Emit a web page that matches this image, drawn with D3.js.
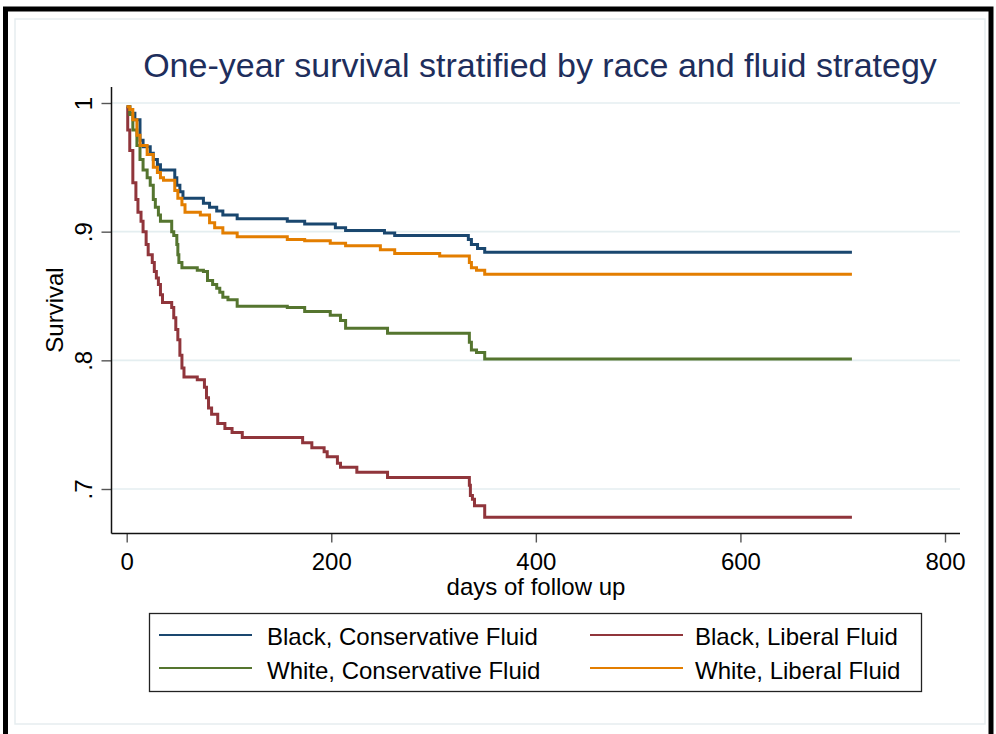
<!DOCTYPE html>
<html>
<head>
<meta charset="utf-8">
<script src="https://cdn.jsdelivr.net/npm/d3@7"></script>
<style>
  html, body { margin: 0; padding: 0; background: #ffffff; }
  svg { display: block; }
  text { font-family: "Liberation Sans", Arial, sans-serif; }
</style>
</head>
<body>
<svg id="chart" width="996" height="734"></svg>
<script>
// Kaplan-Meier step estimates: [day, survival after that day's events]
const blackConservative = [
  [0, 0.997], [3, 0.992], [8, 0.987], [13, 0.971], [16, 0.966], [23, 0.961], [26, 0.956],
  [30, 0.952], [33, 0.948], [47, 0.942], [49, 0.936], [52, 0.931], [55, 0.926], [75, 0.922],
  [81, 0.919], [88, 0.916], [94, 0.913], [108, 0.910], [157, 0.908], [174, 0.906],
  [204, 0.903], [214, 0.901], [252, 0.899], [262, 0.897], [334, 0.894], [337, 0.890],
  [343, 0.887], [350, 0.884], [709, 0.884]
];
const blackLiberal = [
  [0, 0.997], [1, 0.979], [3, 0.963], [6, 0.938], [9, 0.925], [11, 0.915], [14, 0.908],
  [16, 0.900], [19, 0.890], [21, 0.882], [25, 0.876], [27, 0.869], [29, 0.864], [31, 0.859],
  [33, 0.851], [35, 0.845], [44, 0.841], [46, 0.833], [48, 0.824], [50, 0.816], [52, 0.804],
  [54, 0.794], [56, 0.787], [69, 0.785], [76, 0.779], [78, 0.771], [80, 0.763], [83, 0.758],
  [89, 0.751], [96, 0.747], [103, 0.744], [113, 0.740], [172, 0.736], [181, 0.732],
  [193, 0.729], [196, 0.725], [206, 0.720], [209, 0.717], [225, 0.713], [255, 0.709],
  [335, 0.703], [336, 0.695], [338, 0.692], [340, 0.687], [350, 0.678], [709, 0.678]
];
const whiteConservative = [
  [0, 0.997], [3, 0.991], [6, 0.979], [10, 0.967], [13, 0.956], [16, 0.948], [20, 0.942],
  [23, 0.936], [26, 0.925], [28, 0.919], [31, 0.913], [33, 0.908], [44, 0.900], [46, 0.897],
  [49, 0.890], [50, 0.882], [51, 0.876], [54, 0.872], [69, 0.870], [75, 0.869], [79, 0.862],
  [84, 0.859], [88, 0.856], [91, 0.853], [94, 0.849], [99, 0.847], [108, 0.842],
  [157, 0.841], [174, 0.838], [199, 0.835], [209, 0.831], [214, 0.825], [255, 0.821],
  [335, 0.814], [337, 0.808], [342, 0.806], [350, 0.801], [709, 0.801]
];
const whiteLiberal = [
  [0, 0.997], [3, 0.995], [6, 0.987], [10, 0.975], [13, 0.967], [20, 0.960], [26, 0.950],
  [30, 0.946], [33, 0.942], [36, 0.940], [47, 0.932], [50, 0.926], [54, 0.921], [57, 0.915],
  [72, 0.913], [81, 0.907], [86, 0.903], [94, 0.899], [108, 0.896], [157, 0.894],
  [174, 0.893], [199, 0.891], [214, 0.889], [248, 0.886], [262, 0.883], [306, 0.881],
  [335, 0.876], [337, 0.872], [342, 0.870], [350, 0.867], [709, 0.867]
];

const seriesNames = ["Black, Conservative Fluid", "Black, Liberal Fluid",
                     "White, Conservative Fluid", "White, Liberal Fluid"];
const seriesColors = ["#1a476f", "#90353b", "#55752f", "#e37e00"];
const seriesData = [blackConservative, blackLiberal, whiteConservative, whiteLiberal];

const xTicks = [0, 200, 400, 600, 800];
const yTicks = [0.7, 0.8, 0.9, 1];
const yTickLabels = [".7", ".8", ".9", "1"];

const titleText = "One-year survival stratified by race and fluid strategy";
const xTitle = "days of follow up";
const yTitle = "Survival";

const svg = d3.select("#chart");

// page frame
svg.append("rect").attr("x", 5.5).attr("y", 9).attr("width", 985.5).attr("height", 760)
  .attr("fill", "#ffffff").attr("stroke", "#000000").attr("stroke-width", 5);
svg.append("rect").attr("x", 15).attr("y", 19).attr("width", 970).attr("height", 705)
  .attr("fill", "#ffffff").attr("stroke", "#e6edef").attr("stroke-width", 1.5);

// plot region
const plot = { left: 111.5, right: 960, top: 87, bottom: 533.5 };
const x = d3.scaleLinear().domain([0, 800]).range([126.7, 945]);
const y = d3.scaleLinear().domain([0.7, 1]).range([489, 103]);

// grid lines
svg.append("g").selectAll("line").data(yTicks).join("line")
  .attr("x1", plot.left).attr("x2", plot.right)
  .attr("y1", d => y(d)).attr("y2", d => y(d))
  .attr("stroke", "#e4eef0").attr("stroke-width", 1.6);

// title
svg.append("text").attr("x", 540).attr("y", 77).attr("text-anchor", "middle")
  .attr("font-size", 34).attr("fill", "#1e2e5c").text(titleText);

// y axis
const yAxis = d3.axisLeft(y).tickValues(yTicks).tickSize(10).tickSizeOuter(0)
  .tickFormat((d, i) => yTickLabels[i]);
const gy = svg.append("g").attr("transform", `translate(${plot.left},0)`).call(yAxis);
gy.select(".domain").remove();
gy.selectAll(".tick line").attr("stroke", "#555").attr("stroke-width", 1.4);
gy.selectAll(".tick text")
  .attr("x", 0).attr("dy", 0).attr("y", 0)
  .attr("transform", "translate(-20,0) rotate(-90)")
  .attr("text-anchor", "middle").attr("font-size", 24).attr("fill", "#000")
  .style("font-family", "'Liberation Sans', Arial, sans-serif");
svg.append("line").attr("x1", plot.left).attr("x2", plot.left)
  .attr("y1", plot.top).attr("y2", plot.bottom)
  .attr("stroke", "#111").attr("stroke-width", 1.5);

// x axis
const xAxis = d3.axisBottom(x).tickValues(xTicks).tickSize(9).tickSizeOuter(0)
  .tickFormat(d3.format("d"));
const gx = svg.append("g").attr("transform", `translate(0,${plot.bottom})`).call(xAxis);
gx.select(".domain").remove();
gx.selectAll(".tick line").attr("stroke", "#555").attr("stroke-width", 1.4);
gx.selectAll(".tick text").attr("y", 36.5).attr("dy", 0)
  .attr("font-size", 24).attr("fill", "#000")
  .style("font-family", "'Liberation Sans', Arial, sans-serif");
svg.append("line").attr("x1", plot.left).attr("x2", plot.right)
  .attr("y1", plot.bottom).attr("y2", plot.bottom)
  .attr("stroke", "#111").attr("stroke-width", 1.5);

// axis titles
svg.append("text").attr("x", 536).attr("y", 595).attr("text-anchor", "middle")
  .attr("font-size", 24).attr("fill", "#000").text(xTitle);
svg.append("text").attr("transform", "translate(63,310) rotate(-90)")
  .attr("text-anchor", "middle").attr("font-size", 24).attr("fill", "#000").text(yTitle);

// survival curves
const line = d3.line().x(d => x(d[0])).y(d => y(d[1])).curve(d3.curveStepAfter);
svg.append("g").selectAll("path").data(seriesData).join("path")
  .attr("d", line).attr("fill", "none")
  .attr("stroke", (d, i) => seriesColors[i]).attr("stroke-width", 3)
  .attr("stroke-linejoin", "miter");

// legend
svg.append("rect").attr("x", 149.5).attr("y", 613.5).attr("width", 772).attr("height", 78)
  .attr("fill", "#ffffff").attr("stroke", "#222").attr("stroke-width", 1.3);
const legendPos = [
  { lx: 159, tx: 267, ly: 635, ty: 645 },
  { lx: 590, tx: 695, ly: 635, ty: 645 },
  { lx: 159, tx: 267, ly: 668, ty: 679 },
  { lx: 590, tx: 695, ly: 668, ty: 679 }
];
const leg = svg.append("g").selectAll("g").data(seriesNames).join("g");
leg.append("line")
  .attr("x1", (d, i) => legendPos[i].lx).attr("x2", (d, i) => legendPos[i].lx + 93)
  .attr("y1", (d, i) => legendPos[i].ly).attr("y2", (d, i) => legendPos[i].ly)
  .attr("stroke", (d, i) => seriesColors[i]).attr("stroke-width", 2.2);
leg.append("text")
  .attr("x", (d, i) => legendPos[i].tx).attr("y", (d, i) => legendPos[i].ty)
  .attr("font-size", 24).attr("fill", "#000").text(d => d);
</script>
</body>
</html>
